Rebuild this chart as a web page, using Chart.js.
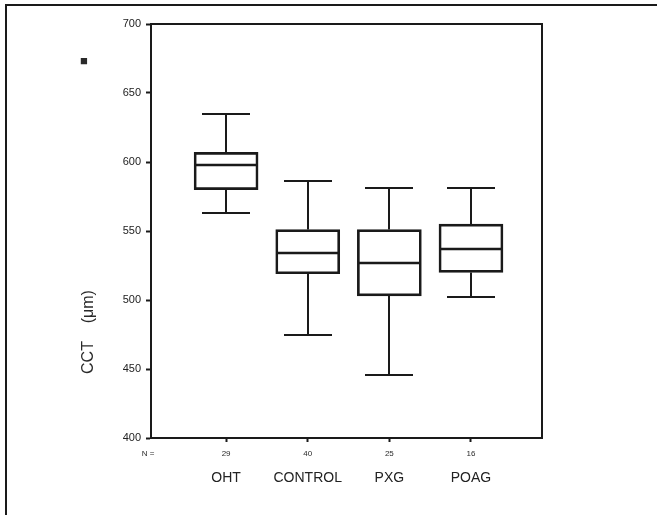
<!DOCTYPE html>
<html>
<head>
<meta charset="utf-8">
<script src="https://cdn.jsdelivr.net/npm/chart.js@4"></script>
<style>
  body { margin: 0; background: #fff; }
  #frame { position: absolute; left: 5px; top: 4px; width: 652px; height: 511px; border-left: 2px solid #1a1a1a; border-top: 2px solid #1a1a1a; box-sizing: border-box; }
  #wrap { position: absolute; left: 0; top: 0; width: 657px; height: 515px; }
</style>
</head>
<body>
<div id="frame"></div>
<div id="wrap"><canvas id="cct"></canvas></div>
<script>
// CCT by group
const groups = ["OHT", "CONTROL", "PXG", "POAG"];
const groupN = ["29", "40", "25", "16"];
const whiskerLow = [563, 475, 446, 502];
const q1 = [580, 519, 503, 520];
const median = [598, 534, 527, 537];
const q3 = [607, 551, 551, 555];
const whiskerHigh = [635, 586, 581, 581];
const yTicks = [400, 450, 500, 550, 600, 650, 700];

const ink = "#1a1a1a";
const fontFam = "'Liberation Sans', Arial, sans-serif";

// whiskers, caps and medians drawn on the chart's own scales
const boxWhiskers = {
  id: "boxWhiskers",
  afterDatasetsDraw(chart) {
    let ctx = chart.ctx;
    let x = chart.scales.x;
    let y = chart.scales.y;
    ctx.save();
    ctx.strokeStyle = ink;
    ctx.lineWidth = 2;
    groups.forEach((g, i) => {
      let cx = Math.round(x.getPixelForValue(i + 1));
      let yHi = Math.round(y.getPixelForValue(whiskerHigh[i]));
      let yLo = Math.round(y.getPixelForValue(whiskerLow[i]));
      ctx.beginPath();
      ctx.moveTo(cx, y.getPixelForValue(q3[i]));
      ctx.lineTo(cx, yHi);
      ctx.moveTo(cx, y.getPixelForValue(q1[i]));
      ctx.lineTo(cx, yLo);
      ctx.moveTo(cx - 24, yHi);
      ctx.lineTo(cx + 24, yHi);
      ctx.moveTo(cx - 24, yLo);
      ctx.lineTo(cx + 24, yLo);
      ctx.stroke();
      ctx.lineWidth = 2.5;
      ctx.beginPath();
      let ym = Math.round(y.getPixelForValue(median[i]));
      ctx.moveTo(cx - 31, ym);
      ctx.lineTo(cx + 31, ym);
      ctx.stroke();
      ctx.lineWidth = 2;
    });
    ctx.restore();
  },
};

// plot frame, axis title, N row and panel marker
const decorations = {
  id: "decorations",
  afterDraw(chart) {
    let ctx = chart.ctx;
    let area = chart.chartArea;
    let x = chart.scales.x;
    ctx.save();
    ctx.strokeStyle = ink;
    ctx.lineWidth = 2;
    ctx.beginPath();
    ctx.moveTo(area.left, area.top);
    ctx.lineTo(area.right, area.top);
    ctx.lineTo(area.right, area.bottom);
    ctx.stroke();

    ctx.fillStyle = "#2a2a2a";
    ctx.textAlign = "center";
    ctx.textBaseline = "middle";
    ctx.font = "8px " + fontFam;
    ctx.fillText("N =", area.left - 3, area.bottom + 16);
    groupN.forEach((n, i) => {
      ctx.fillText(n, x.getPixelForValue(i + 1), area.bottom + 16);
    });

    ctx.font = "13px " + fontFam;
    ctx.fillText("■", 84, 61);

    ctx.translate(89, 332);
    ctx.rotate(-Math.PI / 2);
    ctx.font = "16px " + fontFam;
    ctx.fillText("CCT    (μm)", 0, 0);
    ctx.restore();
  },
};

new Chart("cct", {
  type: "bar",
  data: {
    datasets: [
      {
        data: groups.map((g, i) => ({ x: i + 1, y: [q1[i], q3[i]] })),
        backgroundColor: "rgba(0,0,0,0)",
        borderColor: ink,
        borderWidth: 2,
        borderSkipped: false,
        barThickness: 64,
      },
    ],
  },
  options: {
    responsive: true,
    maintainAspectRatio: false,
    animation: false,
    layout: { padding: { top: 24, right: 115, left: 0, bottom: 0 } },
    plugins: { legend: { display: false }, tooltip: { enabled: false } },
    scales: {
      x: {
        type: "linear",
        offset: false,
        min: 0.08,
        max: 4.87,
        afterBuildTicks: (scale) => {
          scale.ticks = groups.map((g, i) => ({ value: i + 1 }));
        },
        afterFit: (scale) => {
          scale.height = 77;
        },
        grid: { display: true, drawOnChartArea: false, offset: false, tickLength: 4, tickWidth: 2, color: ink },
        border: { display: true, color: ink, width: 2 },
        ticks: {
          callback: (v) => groups[v - 1],
          color: "#222",
          padding: 28,
          maxRotation: 0,
          font: { family: fontFam, size: 14 },
        },
      },
      y: {
        min: 400,
        max: 700,
        afterBuildTicks: (scale) => {
          scale.ticks = yTicks.map((v) => ({ value: v }));
        },
        afterFit: (scale) => {
          scale.width = 151;
        },
        grid: { display: true, drawOnChartArea: false, tickLength: 5, tickWidth: 2, color: ink },
        border: { display: true, color: ink, width: 2 },
        ticks: {
          color: "#222",
          padding: 5,
          font: { family: fontFam, size: 11 },
        },
      },
    },
  },
  plugins: [boxWhiskers, decorations],
});
</script>
</body>
</html>
